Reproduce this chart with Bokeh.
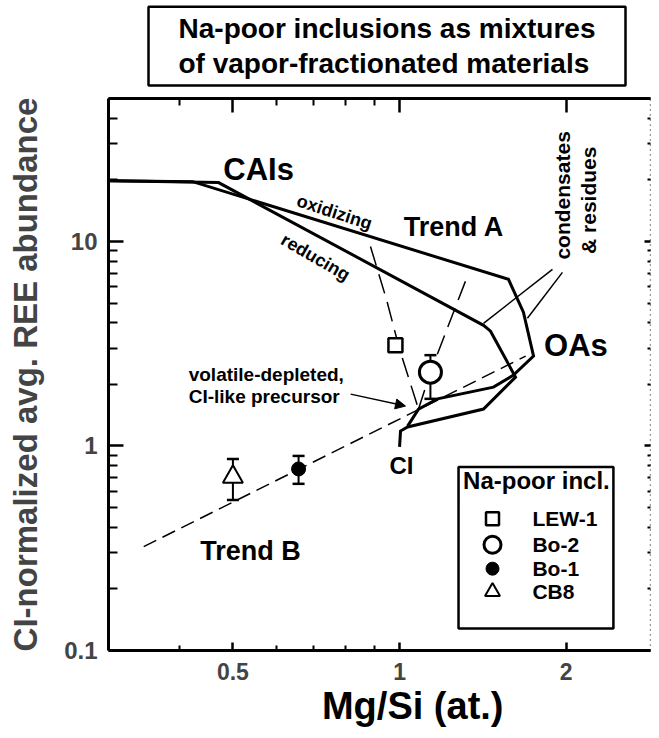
from bokeh.plotting import figure
from bokeh.models import (LogAxis, FixedTicker, NumeralTickFormatter, CustomJSTickFormatter,
                          Label, Whisker, ColumnDataSource, Arrow, NormalHead, BoxAnnotation, TeeHead, Title)
from bokeh.embed import file_html
from bokeh.resources import INLINE

FONT = "Liberation Sans"

# ---- ticks ----
x_major_ticks = [0.5, 1, 2]
x_minor_ticks = [0.4, 0.6, 0.7, 0.8, 0.9]
y_major_ticks = [0.1, 1, 10]
y_minor_ticks = [0.2, 0.3, 0.4, 0.5, 0.6, 0.7, 0.8, 0.9, 2, 3, 4, 5, 6, 7, 8, 9, 20, 30, 40, 50]

# ---- vapor-fractionation trajectories (Mg/Si, CI-normalized REE) ----
oxid_mgsi = [0.30, 0.423, 1.573, 1.674, 1.746, 1.606, 1.478, 1.171, 1.082, 1.034]
oxid_ree = [19.8, 19.6, 6.53, 4.51, 2.75, 2.22, 1.94, 1.70, 1.515, 1.25]
red_mgsi = [0.30, 0.471, 1.418, 1.46, 1.62, 1.418, 1.034, 1.004, 1.0]
red_ree = [19.8, 19.4, 3.89, 3.64, 2.17, 1.515, 1.238, 1.183, 0.99]

# Trend B (dashed)
trendB_mgsi = [0.345, 1.69]
trendB_ree = [0.322, 2.75]

# mixing lines (dashed)
mixA_mgsi = [0.886, 0.947, 1.0, 1.047, 1.082]
mixA_ree = [9.45, 5.21, 2.97, 2.006, 1.515]
mixB_mgsi = [1.315, 1.137, 1.082]
mixB_ree = [6.38, 2.296, 1.515]

# leader lines for "condensates & residues"
lead1_mgsi = [1.889, 1.418]
lead1_ree = [7.3, 3.98]
lead2_mgsi = [1.969, 1.702]
lead2_ree = [7.06, 4.21]

# ---- Na-poor inclusions ----
incl_names = ["LEW-1", "Bo-2", "Bo-1", "CB8"]
incl_mgsi = [0.983, 1.137, 0.657, 0.50]
incl_ree = [3.11, 2.296, 0.772, 0.706]
err_mgsi = [1.137, 0.657, 0.50]
err_lo = [1.70, 0.653, 0.545]
err_hi = [2.78, 0.894, 0.864]

p = figure(width=651, height=730, x_axis_type="log", y_axis_type="log",
           x_range=(0.298, 2.84), y_range=(0.1, 50),
           output_backend="svg", toolbar_location=None,
           min_border_left=108, min_border_right=1, min_border_top=98, min_border_bottom=80)
p.grid.visible = False
p.outline_line_color = None
p.background_fill_color = "white"
p.border_fill_color = "white"

p.title.text = "Na-poor inclusions as mixtures\nof vapor-fractionated materials"
p.title.align = "right"
p.title.offset = 25
p.title.text_font = FONT
p.title.text_font_style = "bold"
p.title.text_font_size = "28px"
p.title.text_line_height = 1.15
p.title.text_color = "black"
p.title.border_line_color = "black"
p.title.border_line_width = 2.5
p.title.background_fill_color = "white"
p.title.padding = dict(left=30, right=30, top=6, bottom=6)
p.title.standoff = 0

def style_axis(ax, tick_in, minor_in, width=3):
    ax.axis_line_width = width
    ax.axis_line_color = "black"
    ax.major_tick_in = tick_in
    ax.major_tick_out = 0
    ax.minor_tick_in = minor_in
    ax.minor_tick_out = 0
    ax.major_tick_line_width = 2.5
    ax.minor_tick_line_width = 2

xa = p.xaxis[0]
xa.ticker = FixedTicker(ticks=x_major_ticks, minor_ticks=x_minor_ticks)
xa.formatter = NumeralTickFormatter(format="0.[0]")
style_axis(xa, 8, 5)
xa.major_label_text_font = FONT
xa.major_label_text_font_style = "bold"
xa.major_label_text_font_size = "23px"
xa.major_label_standoff = 12

ya = p.yaxis[0]
ya.ticker = FixedTicker(ticks=y_major_ticks, minor_ticks=y_minor_ticks)
ya.formatter = NumeralTickFormatter(format="0.[0]")
style_axis(ya, 15, 9)
ya.major_label_text_font = FONT
ya.major_label_text_font_style = "bold"
ya.major_label_text_font_size = "24px"
ya.major_label_standoff = 11
ya.axis_label = "CI-normalized avg. REE abundance"
ya.axis_label_text_font = FONT
ya.axis_label_text_font_style = "bold"
ya.axis_label_text_font_size = "33px"
ya.axis_label_standoff = 17

top = LogAxis(ticker=FixedTicker(ticks=x_major_ticks, minor_ticks=x_minor_ticks),
              formatter=CustomJSTickFormatter(code="return ''"), major_label_standoff=0,
              axis_label=" ", axis_label_standoff=9, axis_label_text_font_size="1px")
style_axis(top, 14, 7)
p.add_layout(top, "above")

right = LogAxis(ticker=FixedTicker(ticks=y_major_ticks, minor_ticks=y_minor_ticks),
                formatter=CustomJSTickFormatter(code="return ''"), major_label_standoff=0)
style_axis(right, 6, 3, width=1.5)
right.axis_line_dash = "1 4"
right.axis_line_color = "#333333"
p.add_layout(right, "right")

# x-axis title, shifted right as in the original
p.add_layout(Title(text="Mg/Si (at.)", align="right", offset=147, standoff=0,
                   text_font=FONT, text_font_style="bold", text_font_size="38px",
                   text_color="black"), "below")

# trajectories
p.line(oxid_mgsi, oxid_ree, line_width=3, line_color="black", line_join="miter")
p.line(red_mgsi, red_ree, line_width=3, line_color="black", line_join="miter")
p.line(trendB_mgsi, trendB_ree, line_width=1.5, line_color="black", line_dash="14 7")
p.line(mixA_mgsi, mixA_ree, line_width=1.5, line_color="black", line_dash="20 9")
p.line(mixB_mgsi, mixB_ree, line_width=1.5, line_color="black", line_dash="20 9")
p.line(lead1_mgsi, lead1_ree, line_width=1.5, line_color="black")
p.line(lead2_mgsi, lead2_ree, line_width=1.5, line_color="black")

# error bars
err_src = ColumnDataSource(dict(x=err_mgsi, lower=err_lo, upper=err_hi))
p.add_layout(Whisker(source=err_src, base="x", lower="lower", upper="upper", dimension="height",
                     line_width=2, line_color="black",
                     upper_head=TeeHead(size=12, line_width=2.5),
                     lower_head=TeeHead(size=12, line_width=2.5)))

# inclusions
p.scatter([incl_mgsi[0]], [incl_ree[0]], marker="square", size=14, fill_color="white",
          line_color="black", line_width=2.5)
p.scatter([incl_mgsi[1]], [incl_ree[1]], marker="circle", size=22, fill_color="white",
          line_color="black", line_width=3)
p.scatter([incl_mgsi[2]], [incl_ree[2]], marker="circle", size=14, fill_color="black",
          line_color="black", line_width=1)
p.scatter([incl_mgsi[3]], [incl_ree[3]], marker="triangle", size=20, fill_color="white",
          line_color="black", line_width=2)

# arrow to CI-like precursor
p.add_layout(Arrow(end=NormalHead(size=10, fill_color="black", line_color="black"),
                   x_start=0.816, y_start=1.793, x_end=1.025, y_end=1.567,
                   line_width=1.5, line_color="black"))

def lab(x, y, text, size, align="center", angle=0, baseline="middle"):
    p.add_layout(Label(x=x, y=y, text=text, text_font=FONT, text_font_style="bold",
                       text_font_size=size, text_align=align, text_baseline=baseline,
                       angle=angle, angle_units="deg", text_color="black"))

lab(0.5565, 22.4, "CAIs", "31px")
lab(1.254, 11.8, "Trend A", "27px")
lab(2.083, 3.1, "OAs", "31px")
lab(0.538, 0.307, "Trend B", "27px")
lab(1.008, 0.80, "CI", "24px")
lab(0.763, 13.9, "oxidizing", "18px", angle=-18)
lab(0.705, 8.36, "reducing", "18px", angle=-30)
lab(1.969, 16.8, "condensates", "21px", angle=90)
lab(2.193, 15.9, "& residues", "21px", angle=90)
lab(0.416, 2.245, "volatile-depleted,", "19px", align="left")
lab(0.416, 1.753, "CI-like precursor", "19px", align="left")

# legend (drawn by hand to keep marker sizes)
p.add_layout(BoxAnnotation(left=1.278, right=2.434, bottom=0.128, top=0.790,
                           fill_color="white", fill_alpha=1, line_color="black", line_alpha=1,
                           line_width=2.5, level="underlay"))
lab(1.767, 0.675, "Na-poor incl.", "24px")
leg_y = [0.4405, 0.329, 0.2512, 0.194]
p.scatter([1.472], [leg_y[0]], marker="square", size=13, fill_color="white", line_color="black", line_width=2.5)
p.scatter([1.472], [leg_y[1]], marker="circle", size=17, fill_color="white", line_color="black", line_width=3)
p.scatter([1.472], [leg_y[2]], marker="circle", size=13, fill_color="black", line_color="black")
p.scatter([1.472], [leg_y[3]], marker="triangle", size=15, fill_color="white", line_color="black", line_width=2)
for yy, name in zip(leg_y, incl_names):
    lab(1.738, yy, name, "21px", align="left")

open("out.html", "w").write(file_html(p, INLINE))
